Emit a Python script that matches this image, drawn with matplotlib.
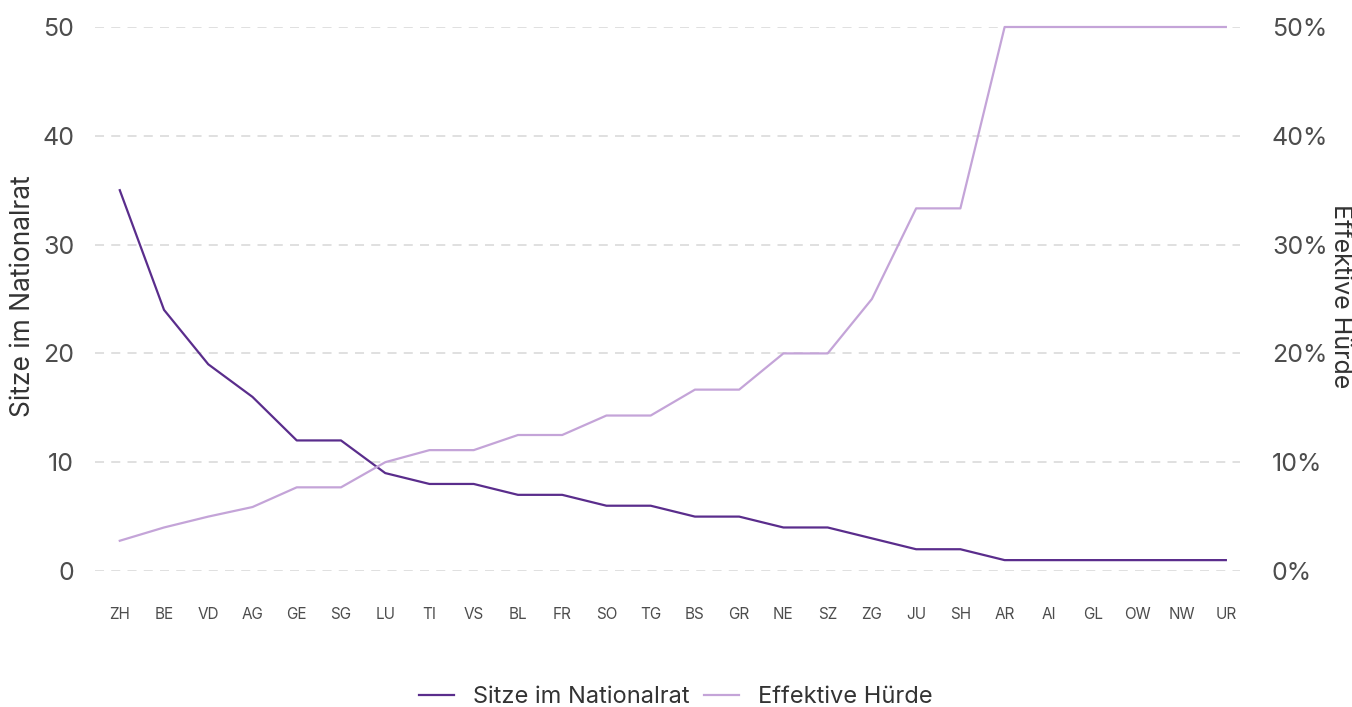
import matplotlib.pyplot as plt
from matplotlib.ticker import FuncFormatter

plt.rcParams['font.family'] = ['Inter', 'DejaVu Sans']

kantone = ["ZH", "BE", "VD", "AG", "GE", "SG", "LU", "TI", "VS", "BL", "FR", "SO", "TG",
           "BS", "GR", "NE", "SZ", "ZG", "JU", "SH", "AR", "AI", "GL", "OW", "NW", "UR"]
sitze = [35, 24, 19, 16, 12, 12, 9, 8, 8, 7, 7, 6, 6, 5, 5, 4, 4, 3, 2, 2, 1, 1, 1, 1, 1, 1]
huerde = [0.0278, 0.04, 0.05, 0.0588, 0.0769, 0.0769, 0.10, 0.1111, 0.1111, 0.125, 0.125,
          0.1429, 0.1429, 0.1667, 0.1667, 0.20, 0.20, 0.25, 0.3333, 0.3333, 0.50, 0.50,
          0.50, 0.50, 0.50, 0.50]

dark = "#5a2d8c"
light = "#c4a4d8"
txt = "#4d4d4d"

fig = plt.figure(figsize=(13.52, 7.07), dpi=100)
ax = fig.add_axes([95 / 1352, (707 - 571) / 707, (1240 - 95) / 1352, (571 - 27) / 707])
ax2 = ax.twinx()

x = list(range(len(kantone)))
l1, = ax.plot(x, sitze, color=dark, lw=1.6, label="Sitze im Nationalrat", clip_on=False)
l2, = ax2.plot(x, huerde, color=light, lw=1.6, label="Effektive Hürde", clip_on=False)

ax.set_xlim(-0.56, 25.32)
ax.set_ylim(0, 50)
ax2.set_ylim(0, 0.5)
ax.set_yticks([0, 10, 20, 30, 40, 50])
ax2.set_yticks([0, 0.1, 0.2, 0.3, 0.4, 0.5])
ax2.yaxis.set_major_formatter(FuncFormatter(lambda v, p: f"{v*100:.0f}%"))
ax.set_xticks(x)
ax.set_xticklabels(kantone)

ax.grid(axis='y', color="#dddddd", linestyle=(0, (5, 4)), lw=1.3)
ax.set_axisbelow(True)

for a in (ax, ax2):
    for s in a.spines.values():
        s.set_visible(False)
    a.tick_params(length=0, colors=txt)

ax.tick_params(axis='y', labelsize=18, pad=15)
ax2.tick_params(axis='y', labelsize=18, pad=23)
ax.tick_params(axis='x', labelsize=11, pad=26)

ax.set_ylabel("Sitze im Nationalrat", fontsize=19, color="#333333", va="center")
ax.yaxis.set_label_coords(-0.063, 0.505)
ax2.set_ylabel("Effektive Hürde", fontsize=18, color="#333333", rotation=-90, va="center")
ax2.yaxis.set_label_coords(1.088, 0.505)

fig.legend(handles=[l1, l2], loc="center", bbox_to_anchor=(0.5, 10 / 707),
           ncol=2, frameon=False, fontsize=17, labelcolor="#333333",
           handlelength=1.5, columnspacing=0.6, handletextpad=0.8)

fig.savefig("out.png", dpi=100)
